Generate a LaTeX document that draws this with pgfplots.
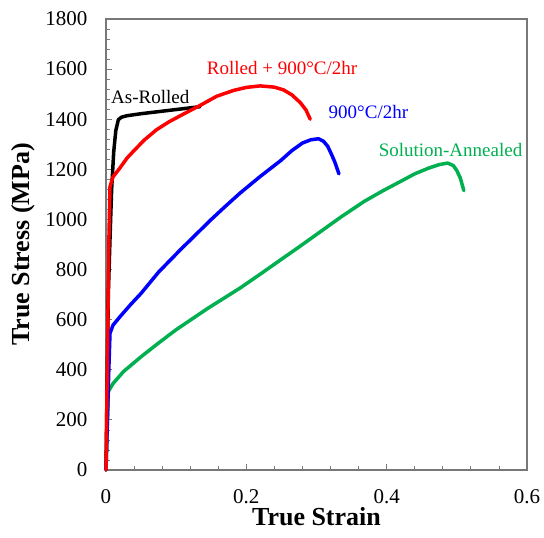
\documentclass[border=0pt]{standalone}
\usepackage{fontspec}
\setmainfont{Liberation Serif}
\usepackage{pgfplots}
\pgfplotsset{compat=1.18}
\definecolor{framegray}{RGB}{120,120,120}
\definecolor{sagreen}{RGB}{0,176,80}
\begin{document}
\begin{tikzpicture}
% keep the reference margins round the plot box
\path[use as bounding box] (-106pt,-68pt) rectangle (438pt,470pt);
\begin{axis}[
  scale only axis,
  width=421pt, height=451pt,
  xmin=0, xmax=0.6, ymin=0, ymax=1800,
  xtick={0,0.2,0.4,0.6}, ytick={0,200,...,1800},
  minor x tick num=4, minor y tick num=4,
  xtick pos=bottom, ytick pos=left,
  tick align=inside,
  major tick length=6pt, minor tick length=4pt,
  axis line style={framegray, line width=1.2pt},
  every tick/.style={framegray, line width=0.8pt},
  tick label style={font=\fontsize{21}{21}\selectfont},
  /pgf/number format/assume math mode=true,
  /pgf/number format/1000 sep={},
  xticklabel shift=16pt,
  yticklabel shift=15pt,
  xlabel={\textbf{True Strain}},
  ylabel={\textbf{True Stress (MPa)}},
  label style={font=\fontsize{26}{26}\selectfont},
  xlabel style={at={(axis description cs:0.5,0)}, anchor=base, yshift=-56pt},
  ylabel style={at={(axis description cs:0,0.5)}, anchor=center, yshift=83pt},
  scaled ticks=false,
  clip=false,
  every axis plot/.append style={line width=3.5pt, line join=round, line cap=round},
]
% As-Rolled
\addplot[black] coordinates {
 (0,0) (0.0033,700) (0.006,950) (0.008,1118) (0.011,1270) (0.014,1355)
 (0.0176,1398) (0.022,1408) (0.03,1414) (0.05,1422) (0.08,1432) (0.11,1442)
 (0.134,1450)};
% Solution-Annealed
\addplot[sagreen] coordinates {
 (0,0) (0.0033,313) (0.01,345) (0.025,393) (0.05,452) (0.075,507) (0.1,560)
 (0.145,645) (0.191,726) (0.22,782) (0.249,839) (0.275,890) (0.3,940)
 (0.335,1010) (0.368,1072) (0.395,1115) (0.42,1152) (0.44,1182) (0.46,1205)
 (0.475,1219) (0.487,1225) (0.495,1215) (0.5,1195) (0.505,1165) (0.51,1115)};
% 900C/2hr
\addplot[blue] coordinates {
 (0,0) (0.004,400) (0.0057,546) (0.01,578) (0.02,612) (0.035,660) (0.05,705)
 (0.075,790) (0.106,879) (0.13,945) (0.15,1000) (0.17,1052) (0.191,1105)
 (0.22,1172) (0.249,1235) (0.265,1275) (0.28,1305) (0.292,1318) (0.303,1322)
 (0.31,1312) (0.316,1292) (0.321,1262) (0.326,1230) (0.332,1182)};
% Rolled + 900C/2hr
\addplot[red] coordinates {
 (0,0) (0.004,900) (0.0057,1131) (0.01,1170) (0.02,1206) (0.03,1245)
 (0.04,1275) (0.055,1318) (0.072,1358) (0.09,1390) (0.11,1420) (0.134,1455)
 (0.158,1492) (0.182,1515) (0.2,1527) (0.22,1533) (0.24,1528) (0.253,1517)
 (0.265,1497) (0.277,1466) (0.285,1437) (0.291,1400)};
\node[font=\fontsize{19}{19}\selectfont, black] at (axis cs:0.063,1490) {As-Rolled};
\node[font=\fontsize{19}{19}\selectfont, red] at (axis cs:0.251,1605) {Rolled + 900°C/2hr};
\node[font=\fontsize{19}{19}\selectfont, blue] at (axis cs:0.374,1430) {900°C/2hr};
\node[font=\fontsize{19}{19}\selectfont, sagreen] at (axis cs:0.491,1278) {Solution-Annealed};
\end{axis}
\end{tikzpicture}
\end{document}
